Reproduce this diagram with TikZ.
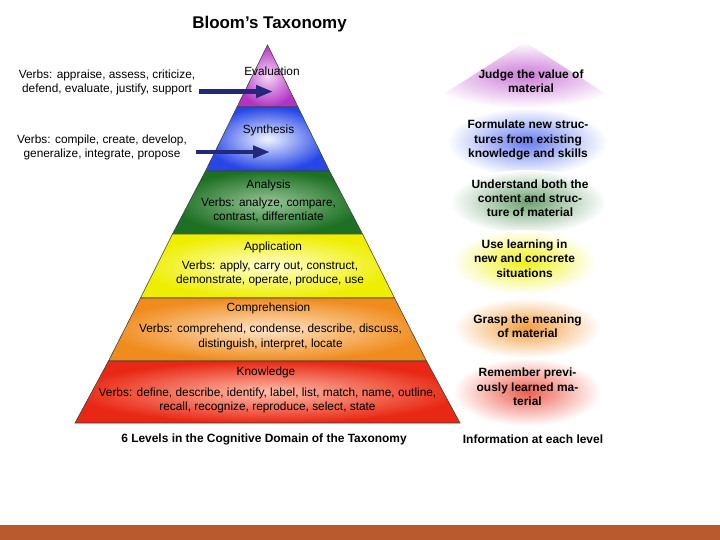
\documentclass[tikz,border=0pt]{standalone}
\usepackage{fontspec}
\setmainfont{Liberation Sans}
\usetikzlibrary{arrows.meta,positioning}

\definecolor{arrownavy}{RGB}{34,40,122}
\definecolor{barbrown}{RGB}{185,90,46}
\definecolor{evalOut}{RGB}{178,52,196}
\definecolor{evalIn}{RGB}{246,214,246}
\definecolor{synthOut}{RGB}{38,70,232}
\definecolor{synthIn}{RGB}{240,244,255}
\definecolor{anaOut}{RGB}{30,112,36}
\definecolor{anaIn}{RGB}{150,196,150}
\definecolor{appOut}{RGB}{238,238,0}
\definecolor{appIn}{RGB}{255,255,210}
\definecolor{compOut}{RGB}{240,140,30}
\definecolor{compIn}{RGB}{255,228,200}
\definecolor{knowOut}{RGB}{232,40,20}
\definecolor{knowIn}{RGB}{255,190,170}

\begin{document}
\begin{tikzpicture}[
    x=1bp, y=-1bp,
    % every text in the slide
    every node/.style={inner sep=0pt, align=center, font=\fontsize{11.9}{14.5}\selectfont},
    info/.style={font=\bfseries\fontsize{12}{14.5}\selectfont},
    band/.style={draw=black!75, line width=0.6bp},
    verbarrow/.style={draw=arrownavy, line width=5bp, -{Triangle[length=17bp,width=12bp]}},
  ]
  \useasboundingbox[fill=white] (0,0) rectangle (720,540);

  \node[font=\bfseries\fontsize{17}{19}\selectfont] (title) at (269.5,24.5) {Bloom’s Taxonomy};

  %%%%%%%%%%%%%%%%%%%%%%%%%%%%%%%%%%%%%%%%%%%%%%%%%%%%%%%%
  % PYRAMID: six bands from the top down
  %%%%%%%%%%%%%%%%%%%%%%%%%%%%%%%%%%%%%%%%%%%%%%%%%%%%%%%%
  \coordinate (apex) at (267.5,45);
  \coordinate (b1l) at (237,107);  \coordinate (b1r) at (298,107);
  \coordinate (b2l) at (205.5,171); \coordinate (b2r) at (329.5,171);
  \coordinate (b3l) at (172.5,234); \coordinate (b3r) at (362.5,234);
  \coordinate (b4l) at (140.5,298); \coordinate (b4r) at (394.5,298);
  \coordinate (b5l) at (108.5,361); \coordinate (b5r) at (426.5,361);
  \coordinate (b6l) at (75,423);    \coordinate (b6r) at (460,423);

  \shadedraw[band, inner color=evalIn,  outer color=evalOut]  (apex) -- (b1r) -- (b1l) -- cycle;
  \shadedraw[band, inner color=synthIn, outer color=synthOut] (b1l) -- (b1r) -- (b2r) -- (b2l) -- cycle;
  \shadedraw[band, inner color=anaIn,   outer color=anaOut]   (b2l) -- (b2r) -- (b3r) -- (b3l) -- cycle;
  \shadedraw[band, inner color=appIn,   outer color=appOut]   (b3l) -- (b3r) -- (b4r) -- (b4l) -- cycle;
  \shadedraw[band, inner color=compIn,  outer color=compOut]  (b4l) -- (b4r) -- (b5r) -- (b5l) -- cycle;
  \shadedraw[band, inner color=knowIn,  outer color=knowOut]  (b5l) -- (b5r) -- (b6r) -- (b6l) -- cycle;

  % level names and verbs inside the bands
  \node (evalLabel)   at (272,71.5)  {Evaluation};
  \node (synthLabel)  at (268.5,130) {Synthesis};
  \node (anaLabel)    at (268.5,185) {Analysis};
  \node (anaVerbs)    at (268.5,210) {Verbs: analyze, compare,\\contrast, differentiate};
  \node (appLabel)    at (273,247)   {Application};
  \node (appVerbs)    at (270,273.7) {Verbs: apply, carry out, construct,\\demonstrate, operate, produce, use};
  \node (compLabel)   at (268.5,308.5) {Comprehension};
  \node (compVerbs)   at (270.5,337) {Verbs: comprehend, condense, describe, discuss,\\distinguish, interpret, locate};
  \node (knowLabel)   at (266,372.5) {Knowledge};
  \node (knowVerbs)   at (267.5,400.2) {Verbs: define, describe, identify, label, list, match, name, outline,\\recall, recognize, reproduce, select, state};

  \node[info] (caption) at (264,439.5) {6 Levels in the Cognitive Domain of the Taxonomy};

  %%%%%%%%%%%%%%%%%%%%%%%%%%%%%%%%%%%%%%%%%%%%%%%%%%%%%%%%
  % VERBS on the left, with arrows into the top two bands
  %%%%%%%%%%%%%%%%%%%%%%%%%%%%%%%%%%%%%%%%%%%%%%%%%%%%%%%%
  \node (evalVerbs)  at (107,82.3)  {Verbs: appraise, assess, criticize,\\defend, evaluate, justify, support};
  \node (synthVerbs) at (102,147.3) {Verbs: compile, create, develop,\\generalize, integrate, propose};

  \coordinate (evalTip)  at (273,91.5);
  \coordinate (synthTip) at (270,152);
  \draw[verbarrow, shorten <=4bp] (evalVerbs.east |- evalTip) -- (evalTip);
  \draw[verbarrow, shorten <=9bp, line width=4.5bp] (synthVerbs.east |- synthTip) -- (synthTip);

  %%%%%%%%%%%%%%%%%%%%%%%%%%%%%%%%%%%%%%%%%%%%%%%%%%%%%%%%
  % INFORMATION column on the right, each on a soft glow
  %%%%%%%%%%%%%%%%%%%%%%%%%%%%%%%%%%%%%%%%%%%%%%%%%%%%%%%%
  \shade[inner color=evalOut!65!white, outer color=white] (525,42) -- (628,108) -- (422,108) -- cycle;
  \shade[inner color=synthOut!70!white, outer color=white] (527,142) ellipse (80 and 34);
  \shade[inner color=anaOut!65!white,  outer color=white] (528,202) ellipse (78 and 32);
  \shade[inner color=appOut!90!white,  outer color=white] (524,262) ellipse (72 and 32);
  \shade[inner color=compOut!85!white, outer color=white] (527,328) ellipse (74 and 30);
  \shade[inner color=knowOut!75!white, outer color=white] (527,392) ellipse (74 and 34);

  \node[info] (evalInfo)  at (531,81.3)  {Judge the value of\\material};
  \node[info] (synthInfo) at (528,140)   {Formulate new struc-\\tures from existing\\knowledge and skills};
  \node[info] (anaInfo)   at (530,198.2) {Understand both the\\content and struc-\\ture of material};
  \node[info] (appInfo)   at (524.5,258.4) {Use learning in\\new and concrete\\situations};
  \node[info] (compInfo)  at (527.5,326.3) {Grasp the meaning\\of material};
  \node[info] (knowInfo)  at (527.5,387)  {Remember previ-\\ously learned ma-\\terial};
  \node[info] (infoCaption) at (533,439.5) {Information at each level};

  % footer bar
  \fill[barbrown] (0,524.5) rectangle (720,540);
\end{tikzpicture}
\end{document}
